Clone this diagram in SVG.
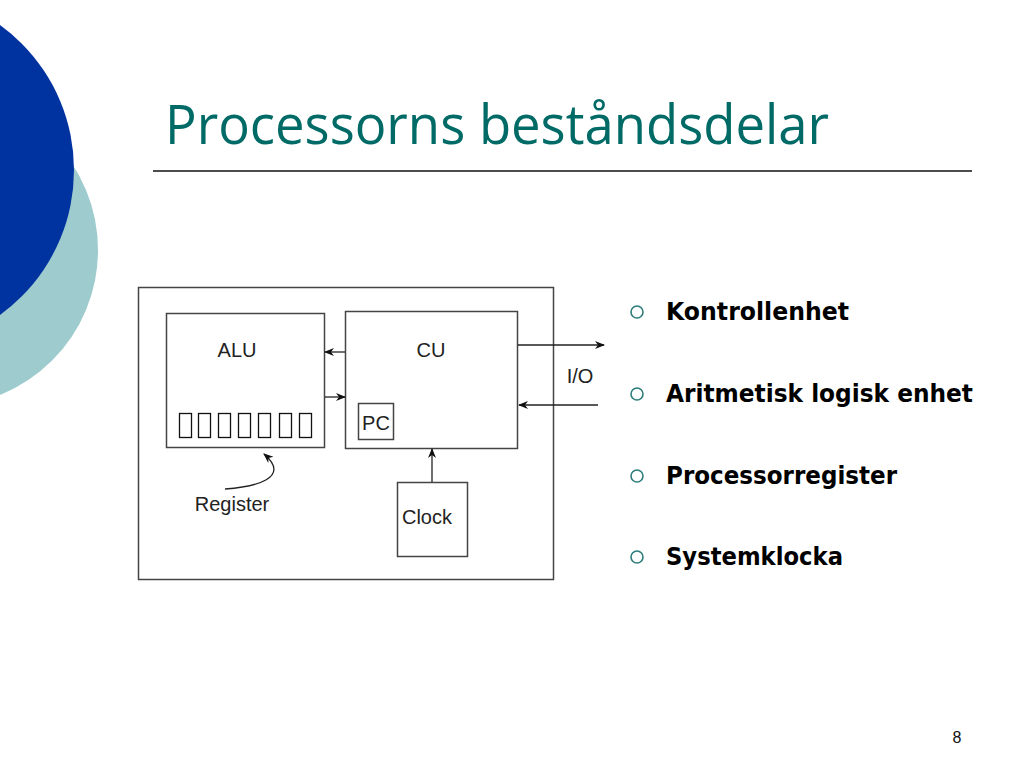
<svg xmlns="http://www.w3.org/2000/svg" width="1024" height="768" viewBox="0 0 1024 768">
<defs>
<style>
.box{fill:none;stroke:#444;stroke-width:1.5}
.reg{fill:none;stroke:#111;stroke-width:1.3}
.con{fill:none;stroke:#222;stroke-width:1.3}
.lbl{font-family:"Liberation Sans",Arial,sans-serif;font-size:20px;fill:#222;text-anchor:middle}
.bul{font-family:"DejaVu Sans","Open Sans",sans-serif;font-weight:bold;font-size:25px;fill:#000}
.ring{fill:none;stroke:#2E7D7B;stroke-width:1.6}
</style>
<marker id="ah" markerWidth="10" markerHeight="10" refX="9" refY="5" orient="auto" markerUnits="userSpaceOnUse">
<path d="M0,1 L10,5 L0,9 L3,5 Z" fill="#111"/>
</marker>
</defs>
<rect width="1024" height="768" fill="#fff"/>
<g id="decor">
<circle cx="-58" cy="250" r="156" fill="#9ECBCE"/>
<circle cx="-105" cy="170" r="179" fill="#0033A0"/>
</g>
<text x="165" y="144" font-family="'Open Sans','DejaVu Sans',sans-serif" font-size="54" fill="#006B66" textLength="664" lengthAdjust="spacingAndGlyphs">Processorns beståndsdelar</text>
<line x1="153" y1="171" x2="972" y2="171" stroke="#111" stroke-width="1.5"/>
<g id="cpu">
<rect class="box" x="138.5" y="287.5" width="415" height="292"/>
</g>
<g id="alu">
<rect class="box" x="166.5" y="313.5" width="158" height="134"/>
<text class="lbl" x="237" y="357">ALU</text>
<g id="registers">
<rect class="reg" x="179.5" y="413.5" width="12" height="24"/>
<rect class="reg" x="198.5" y="413.5" width="12" height="24"/>
<rect class="reg" x="218.5" y="413.5" width="12" height="24"/>
<rect class="reg" x="238.5" y="413.5" width="12" height="24"/>
<rect class="reg" x="258.5" y="413.5" width="12" height="24"/>
<rect class="reg" x="279.5" y="413.5" width="12" height="24"/>
<rect class="reg" x="299.5" y="413.5" width="12" height="24"/>
</g>
</g>
<g id="cu">
<rect class="box" x="345.5" y="311.5" width="172" height="137"/>
<text class="lbl" x="431" y="357">CU</text>
</g>
<g id="pc">
<rect class="box" x="358.5" y="403.5" width="35" height="36"/>
<text class="lbl" x="376" y="430">PC</text>
</g>
<g id="clock">
<rect class="box" x="397.5" y="482.5" width="70" height="74"/>
<text class="lbl" x="427" y="524">Clock</text>
</g>
<g id="register-label">
<text class="lbl" x="232" y="511">Register</text>
</g>
<g id="io-label">
<text class="lbl" x="580" y="383">I/O</text>
</g>
<g id="connectors">
<line class="con" x1="345" y1="352" x2="325" y2="352" marker-end="url(#ah)"/>
<line class="con" x1="325" y1="397" x2="345" y2="397" marker-end="url(#ah)"/>
<line class="con" x1="518" y1="345" x2="604" y2="345" marker-end="url(#ah)"/>
<line class="con" x1="598" y1="405" x2="519" y2="405" marker-end="url(#ah)"/>
<line class="con" x1="432" y1="482" x2="432" y2="449" marker-end="url(#ah)"/>
<path class="con" d="M225,489 C255,487 292,478 264,454" marker-end="url(#ah)"/>
</g>
<g id="bullets">
<circle class="ring" cx="637" cy="312" r="6"/>
<text class="bul" x="666" y="320" textLength="183" lengthAdjust="spacingAndGlyphs">Kontrollenhet</text>
<circle class="ring" cx="637" cy="394" r="6"/>
<text class="bul" x="666" y="402" textLength="307" lengthAdjust="spacingAndGlyphs">Aritmetisk logisk enhet</text>
<circle class="ring" cx="637" cy="476" r="6"/>
<text class="bul" x="666" y="484" textLength="231" lengthAdjust="spacingAndGlyphs">Processorregister</text>
<circle class="ring" cx="637" cy="557" r="6"/>
<text class="bul" x="666" y="565" textLength="177" lengthAdjust="spacingAndGlyphs">Systemklocka</text>
</g>
<text x="957" y="743" font-family="'Liberation Sans',Arial,sans-serif" font-size="16" fill="#111" text-anchor="middle">8</text>
</svg>
